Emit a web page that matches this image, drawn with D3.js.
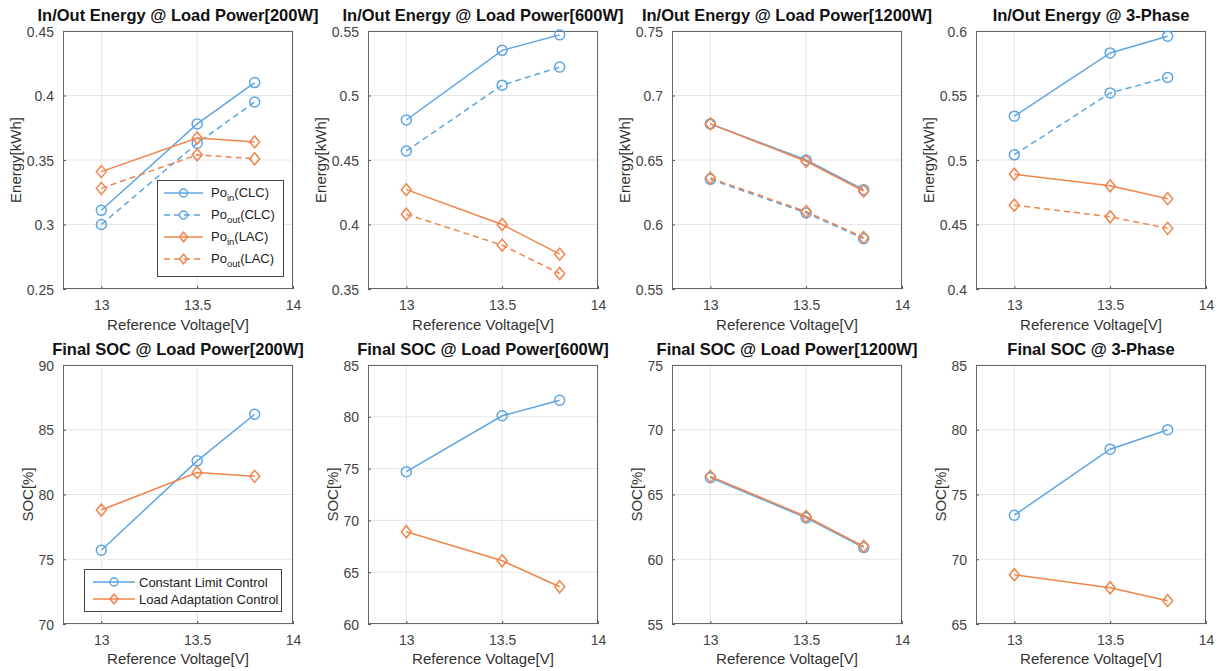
<!DOCTYPE html>
<html>
<head>
<meta charset="utf-8">
<script src="https://cdn.jsdelivr.net/npm/d3@7"></script>
<style>
  html, body { margin: 0; padding: 0; background: #fff; }
  svg { display: block; font-family: "Liberation Sans", Arial, sans-serif; }
</style>
</head>
<body>
<svg id="chart" width="1218" height="671"></svg>
<script>
// Reference voltage sweep shared by all panels
const voltages = [13, 13.5, 13.8];
const xTicks = [13, 13.5, 14];
const xDomain = [12.8, 14];

const energyTitles = [
  "In/Out Energy @ Load Power[200W]",
  "In/Out Energy @ Load Power[600W]",
  "In/Out Energy @ Load Power[1200W]",
  "In/Out Energy @ 3-Phase"
];
const socTitles = [
  "Final SOC @ Load Power[200W]",
  "Final SOC @ Load Power[600W]",
  "Final SOC @ Load Power[1200W]",
  "Final SOC @ 3-Phase"
];

// Energy [kWh] per load case: CLC / LAC, input and output
const energyClcIn  = [[0.311, 0.378, 0.410], [0.481, 0.535, 0.547], [0.678, 0.650, 0.627], [0.534, 0.583, 0.596]];
const energyClcOut = [[0.300, 0.363, 0.395], [0.457, 0.508, 0.522], [0.635, 0.609, 0.589], [0.504, 0.552, 0.564]];
const energyLacIn  = [[0.341, 0.367, 0.364], [0.427, 0.400, 0.377], [0.678, 0.649, 0.626], [0.489, 0.480, 0.470]];
const energyLacOut = [[0.328, 0.354, 0.351], [0.408, 0.384, 0.362], [0.636, 0.610, 0.590], [0.465, 0.456, 0.447]];

// Final state of charge [%]
const socClc = [[75.7, 82.6, 86.2], [74.7, 80.1, 81.6], [66.3, 63.2, 60.9], [73.4, 78.5, 80.0]];
const socLac = [[78.8, 81.7, 81.4], [68.9, 66.1, 63.6], [66.4, 63.3, 61.0], [68.8, 67.8, 66.8]];

// Tick labels on the y axes
const energyYTicks = [
  [0.25, 0.3, 0.35, 0.4, 0.45],
  [0.35, 0.4, 0.45, 0.5, 0.55],
  [0.55, 0.6, 0.65, 0.7, 0.75],
  [0.4, 0.45, 0.5, 0.55, 0.6]
];
const socYTicks = [
  [70, 75, 80, 85, 90],
  [60, 65, 70, 75, 80, 85],
  [55, 60, 65, 70, 75],
  [65, 70, 75, 80, 85]
];

const BLUE = "#5ea5e3";
const ORANGE = "#f0844a";

const svg = d3.select("#chart");
const colLeft = [63, 368, 672, 976];
const plotW = 230;
const rows = [
  { top: 31, bottom: 289, titleY: 21, tickY: 310, labelY: 330, yLabel: "Energy[kWh]", yLabelOff: 47 },
  { top: 365, bottom: 624, titleY: 355, tickY: 645, labelY: 664, yLabel: "SOC[%]", yLabelOff: 35 }
];

function diamondPath(s) {
  const w = 5 * s, h = 6 * s;
  return `M0,${-h}L${w},0L0,${h}L${-w},0Z`;
}

function drawMarker(g, type, color, x, y, s) {
  if (type === "circle") {
    g.append("circle").attr("cx", x).attr("cy", y).attr("r", 5 * s)
      .attr("fill", "none").attr("stroke", color).attr("stroke-width", 1.5);
  } else {
    g.append("path").attr("d", diamondPath(s)).attr("transform", `translate(${x},${y})`)
      .attr("fill", "none").attr("stroke", color).attr("stroke-width", 1.5);
  }
}

function drawPanel(col, row, title, yTicks, series) {
  const r = rows[row];
  const left = colLeft[col];
  const x = d3.scaleLinear().domain(xDomain).range([left, left + plotW]);
  const y = d3.scaleLinear().domain([yTicks[0], yTicks[yTicks.length - 1]]).range([r.bottom, r.top]);
  const g = svg.append("g");

  // grid
  g.append("g").selectAll("line.gx").data(xTicks).join("line")
    .attr("x1", d => x(d)).attr("x2", d => x(d)).attr("y1", r.top).attr("y2", r.bottom)
    .attr("stroke", "#e6e6e6").attr("stroke-width", 1);
  g.append("g").selectAll("line.gy").data(yTicks).join("line")
    .attr("x1", left).attr("x2", left + plotW).attr("y1", d => y(d)).attr("y2", d => y(d))
    .attr("stroke", "#e6e6e6").attr("stroke-width", 1);

  // axes with inward ticks
  const fmt = d => String(+d.toFixed(2));
  const xAxis = d3.axisBottom(x).tickValues(xTicks).tickSize(-3).tickPadding(15).tickFormat(fmt);
  const yAxis = d3.axisLeft(y).tickValues(yTicks).tickSize(-3).tickPadding(9).tickFormat(fmt);
  const gx = g.append("g").attr("transform", `translate(0,${r.bottom})`).call(xAxis);
  const gy = g.append("g").attr("transform", `translate(${left},0)`).call(yAxis);
  [gx, gy].forEach(a => {
    a.select(".domain").remove();
    a.selectAll(".tick line").attr("stroke", "#555");
    a.selectAll(".tick text").attr("fill", "#444").style("font-size", "14px")
      .style("font-family", "'Liberation Sans', Arial, sans-serif");
  });
  gx.selectAll(".tick text").attr("dy", null).attr("y", r.tickY - r.bottom);
  gy.selectAll(".tick text").attr("dy", "0.36em");

  // box
  g.append("rect").attr("x", left + 0.5).attr("y", r.top + 0.5)
    .attr("width", plotW - 1).attr("height", r.bottom - r.top - 1)
    .attr("fill", "none").attr("stroke", "#666").attr("stroke-width", 1);

  // series
  const line = d3.line().x((d, i) => x(voltages[i])).y(d => y(d));
  series.forEach(s => {
    g.append("path").datum(s.values).attr("d", line)
      .attr("fill", "none").attr("stroke", s.color).attr("stroke-width", 1.5)
      .attr("stroke-dasharray", s.dashed ? "6,4" : null);
    s.values.forEach((v, i) => drawMarker(g, s.marker, s.color, x(voltages[i]), y(v), 1));
  });

  // titles and labels
  const cx = left + plotW / 2;
  g.append("text").attr("x", cx).attr("y", r.titleY).attr("text-anchor", "middle")
    .style("font-size", "16.5px").style("font-weight", "bold").attr("fill", "#111").text(title);
  g.append("text").attr("x", cx).attr("y", r.labelY).attr("text-anchor", "middle")
    .style("font-size", "15px").attr("fill", "#333").text("Reference Voltage[V]");
  const cy = (r.top + r.bottom) / 2;
  g.append("text").attr("transform", `translate(${left - r.yLabelOff},${cy}) rotate(-90)`)
    .attr("dy", "0.35em").attr("text-anchor", "middle")
    .style("font-size", "15px").attr("fill", "#333").text(r.yLabel);
}

for (let c = 0; c < 4; c++) {
  drawPanel(c, 0, energyTitles[c], energyYTicks[c], [
    { values: energyClcIn[c], color: BLUE, marker: "circle", dashed: false },
    { values: energyClcOut[c], color: BLUE, marker: "circle", dashed: true },
    { values: energyLacIn[c], color: ORANGE, marker: "diamond", dashed: false },
    { values: energyLacOut[c], color: ORANGE, marker: "diamond", dashed: true }
  ]);
  drawPanel(c, 1, socTitles[c], socYTicks[c], [
    { values: socClc[c], color: BLUE, marker: "circle", dashed: false },
    { values: socLac[c], color: ORANGE, marker: "diamond", dashed: false }
  ]);
}

// Legend: energy panel (200W)
const energyLegend = [
  { base: "Po", sub: "in", tail: "(CLC)", color: BLUE, marker: "circle", dashed: false },
  { base: "Po", sub: "out", tail: "(CLC)", color: BLUE, marker: "circle", dashed: true },
  { base: "Po", sub: "in", tail: "(LAC)", color: ORANGE, marker: "diamond", dashed: false },
  { base: "Po", sub: "out", tail: "(LAC)", color: ORANGE, marker: "diamond", dashed: true }
];
const lg1 = svg.append("g");
lg1.append("rect").attr("x", 157.5).attr("y", 180.5).attr("width", 126).attr("height", 96)
  .attr("fill", "#fff").attr("stroke", "#444").attr("stroke-width", 1);
energyLegend.forEach((d, i) => {
  const yy = 193 + i * 22;
  lg1.append("line").attr("x1", 164).attr("x2", 203).attr("y1", yy).attr("y2", yy)
    .attr("stroke", d.color).attr("stroke-width", 1.5).attr("stroke-dasharray", d.dashed ? "6,4" : null);
  drawMarker(lg1, d.marker, d.color, 183.5, yy, 0.8);
  const t = lg1.append("text").attr("x", 211).attr("y", yy + 4).style("font-size", "13px").attr("fill", "#222");
  t.append("tspan").text(d.base);
  t.append("tspan").attr("dy", 4).style("font-size", "9.5px").text(d.sub);
  t.append("tspan").attr("dy", -4).text(d.tail);
});

// Legend: SOC panel (200W)
const socLegend = [
  { label: "Constant Limit Control", color: BLUE, marker: "circle" },
  { label: "Load Adaptation Control", color: ORANGE, marker: "diamond" }
];
const lg2 = svg.append("g");
lg2.append("rect").attr("x", 84.5).attr("y", 569.5).attr("width", 197).attr("height", 42)
  .attr("fill", "#fff").attr("stroke", "#444").attr("stroke-width", 1);
socLegend.forEach((d, i) => {
  const yy = 582 + i * 17;
  lg2.append("line").attr("x1", 93).attr("x2", 135).attr("y1", yy).attr("y2", yy)
    .attr("stroke", d.color).attr("stroke-width", 1.5);
  drawMarker(lg2, d.marker, d.color, 114, yy, 0.8);
  lg2.append("text").attr("x", 139).attr("y", yy + 4.5).style("font-size", "13px").attr("fill", "#222").text(d.label);
});
</script>
</body>
</html>
